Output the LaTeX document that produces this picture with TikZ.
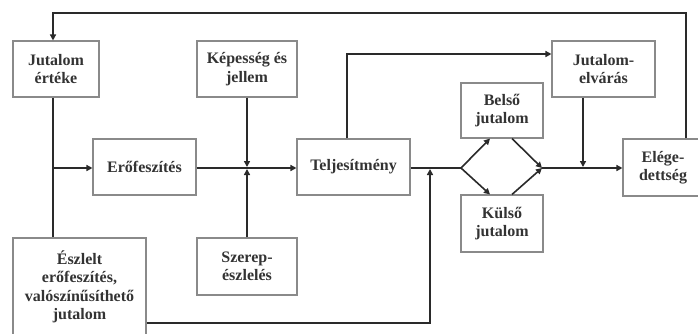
\documentclass[tikz,border=0pt]{standalone}
\usepackage{fontspec}
\setmainfont{Liberation Serif}
\usetikzlibrary{arrows.meta,calc}
\definecolor{linec}{HTML}{2A2A2A}
\definecolor{boxgray}{HTML}{8A8A8A}
\definecolor{txt}{HTML}{333333}
\begin{document}
\begin{tikzpicture}[x=1pt,y=-1pt,
  box/.style={draw=boxgray, line width=1.1pt, fill=white, inner sep=0pt, align=center,
    font=\fontsize{16}{18.5}\selectfont\bfseries, text=txt},
  conn/.style={draw=linec, line width=1.6pt},
  arr/.style={conn, -{Triangle[length=6pt,width=6pt]}}]
\useasboundingbox (0,0) rectangle (698,333);
\fill[white] (0,0) rectangle (698,333);

\node[box, minimum width=86pt, minimum height=56pt] (je) at (56,69) {Jutalom\\értéke};
\node[box, minimum width=100pt, minimum height=56pt] (ke) at (247,69) {Képesség és\\jellem};
\node[box, minimum width=103pt, minimum height=56pt] (ef) at (144.5,167) {Erőfeszítés};
\node[box, minimum width=113pt, minimum height=56pt] (te) at (353.5,167) {Teljesítmény};
\node[box, minimum width=133pt, minimum height=98pt] (ee) at (79.5,287) {Észlelt\\erőfeszítés,\\valószínűsíthető\\jutalom};
\node[box, minimum width=100pt, minimum height=57pt] (sz) at (247,266.5) {Szerep-\\észlelés};
\node[box, minimum width=103pt, minimum height=56pt] (jv) at (603.5,69) {Jutalom-\\elvárás};
\node[box, minimum width=82pt, minimum height=55pt] (bj) at (502,110.5) {Belső\\jutalom};
\node[box, minimum width=82pt, minimum height=57pt] (kj) at (502,223.5) {Külső\\jutalom};
\node[box, minimum width=80pt, minimum height=57pt] (el) at (663,167.5) {Elége-\\dettség};

\coordinate (fbR) at (686,13);
\coordinate (fbL) at (53,13);
\coordinate (lx) at (53,168);
\coordinate (jn) at (247,168);
\coordinate (up) at (347,54);
\coordinate (sp) at (461,168);
\coordinate (mg) at (542,168);
\coordinate (jd) at (583,168);
\coordinate (bt) at (430,323);
\coordinate (bu) at (430,168);
\coordinate (d1) at (490,0);
\coordinate (d2) at (512,0);

\draw[arr] (el.north -| fbR) -- (fbR) -- (fbL) -- (je.north -| fbL);
\draw[conn] (je.south -| fbL) -- (ee.north -| fbL);
\draw[arr] (lx) -- (ef.west |- lx);
\draw[arr] (ef.east |- jn) -- (te.west |- jn);
\draw[arr, shorten >=1pt] (ke.south) -- (jn);
\draw[arr, shorten >=1pt] (sz.north) -- (jn);
\draw[arr] (te.north -| up) -- (up) -- (jv.west |- up);
\draw[conn] (te.east |- sp) -- (sp);
\draw[arr] (sp) -- (bj.south -| d1);
\draw[arr] (sp) -- (kj.north -| d1);
\draw[arr] (bj.south -| d2) -- (mg);
\draw[arr] (kj.north -| d2) -- (mg);
\draw[arr] (mg) -- (el.west |- mg);
\draw[arr, shorten >=1pt] (jv.south -| jd) -- (jd);
\draw[arr, shorten >=1pt] (ee.east |- bt) -- (bt) -- (bu);
\end{tikzpicture}
\end{document}
